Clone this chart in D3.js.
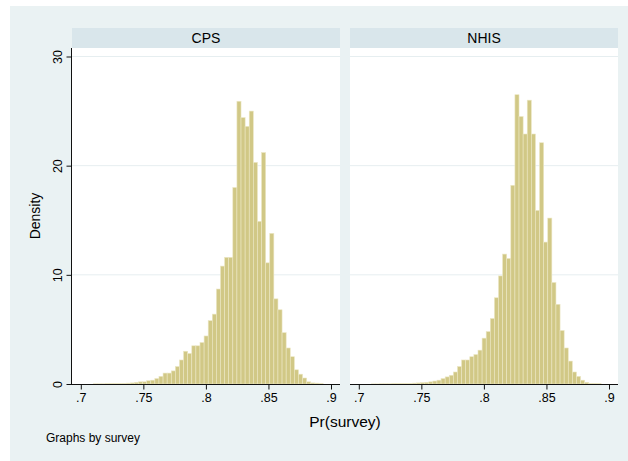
<!DOCTYPE html>
<html>
<head>
  <meta charset="utf-8">
  <title></title>
  <script src="https://cdn.jsdelivr.net/npm/d3@7"></script>
  <style type="text/css">
    body { margin: 0; background: white; }
    svg text { font-family: "Liberation Sans", Arial, sans-serif; fill: #000; }
    .bar { fill: #d1c886; stroke: #ece7c4; stroke-width: 0.6px; }
    .grid { stroke: #e6eef0; stroke-width: 1px; }
    .tick line, .axisline { stroke: #111; stroke-width: 1px; }
  </style>
</head>
<body>
<div class="chart"></div>
<script type="text/javascript">

  // histogram bins are shared by both panels
  var binStart = 0.71;
  var binWidth = 0.00328;
  var surveys = ['CPS', 'NHIS'];
  var cpsDensity = [0.02, 0.02, 0.02, 0.03, 0.03, 0.04, 0.05, 0.06, 0.08, 0.1,
    0.15, 0.2, 0.2, 0.3, 0.35, 0.5, 0.7, 1.0, 1.0, 1.2,
    1.6, 2.2, 3.0, 2.8, 3.5, 3.5, 3.8, 4.4, 5.8, 6.4,
    8.7, 10.8, 11.6, 11.6, 18.0, 25.9, 24.4, 23.6, 25.0, 20.3,
    14.9, 21.2, 11.1, 13.8, 7.8, 6.8, 4.7, 3.3, 2.5, 1.3,
    0.9, 0.55, 0.2, 0.1, 0.08, 0.03];
  var nhisDensity = [0.01, 0.01, 0.02, 0.02, 0.02, 0.03, 0.03, 0.04, 0.05, 0.06,
    0.08, 0.1, 0.12, 0.15, 0.2, 0.27, 0.35, 0.5, 0.65, 0.8,
    1.1, 1.6, 2.2, 2.2, 2.5, 2.7, 3.1, 4.2, 4.8, 6.0,
    7.9, 9.9, 11.9, 11.5, 18.2, 26.5, 24.5, 22.9, 26.0, 22.9,
    15.9, 22.1, 13.0, 15.2, 9.3, 7.3, 4.9, 3.3, 2.1, 1.1,
    0.7, 0.35, 0.15, 0.06, 0.05, 0.03];
  var xTicks = [0.7, 0.75, 0.8, 0.85, 0.9];
  var yTicks = [0, 10, 20, 30];
  var gridTicks = [10, 20, 30];

  var densities = [cpsDensity, nhisDensity];

  var W = 628, H = 461;
  var panelLeft = [72, 350];
  var panelW = 268;
  var plotTop = 48, plotBottom = 384, stripTop = 28;

  var svg = d3.select('.chart').append('svg')
    .attr('width', W).attr('height', H);

  svg.append('rect').attr('x', 10).attr('y', 6)
    .attr('width', W - 10).attr('height', H - 6)
    .attr('fill', '#eaf2f3');

  var y = d3.scaleLinear().domain([0, 30]).range([plotBottom, 56.5]);

  surveys.forEach(function (name, p) {
    var left = panelLeft[p];
    var x = d3.scaleLinear().domain([0.7, 0.9]).range([left + 8.8, left + 259]);
    var g = svg.append('g');

    // strip
    g.append('rect').attr('x', left).attr('y', stripTop)
      .attr('width', panelW).attr('height', plotTop - stripTop)
      .attr('fill', '#d9e6eb');
    g.append('text').attr('x', left + panelW / 2).attr('y', 43)
      .attr('text-anchor', 'middle').style('font-size', '14px')
      .text(name);

    // plot region
    g.append('rect').attr('x', left).attr('y', plotTop)
      .attr('width', panelW).attr('height', plotBottom - plotTop)
      .attr('fill', 'white');

    g.selectAll('.grid').data(gridTicks).enter().append('line')
      .attr('class', 'grid')
      .attr('x1', left).attr('x2', left + panelW)
      .attr('y1', function (d) { return y(d); })
      .attr('y2', function (d) { return y(d); });

    g.append('g').selectAll('.bar')
      .data(densities[p]).enter().append('rect')
        .attr('class', 'bar')
        .attr('x', function (d, i) { return x(binStart + i * binWidth); })
        .attr('width', function (d, i) {
          return x(binStart + (i + 1) * binWidth) - x(binStart + i * binWidth);
        })
        .attr('y', function (d) { return y(d); })
        .attr('height', function (d) { return plotBottom - y(d); });

    // x axis
    g.append('line').attr('class', 'axisline')
      .attr('x1', left).attr('x2', left + panelW)
      .attr('y1', plotBottom + 0.5).attr('y2', plotBottom + 0.5);

    g.append('g')
      .attr('transform', 'translate(0,' + (plotBottom + 0.5) + ')')
      .call(d3.axisBottom(x).tickValues(xTicks).tickSize(5).tickPadding(4)
        .tickFormat(function (d) { return String(d).replace(/^0/, ''); }))
      .call(function (a) { a.select('.domain').remove(); })
      .selectAll('text').style('font-size', '12.5px');
  });

  // y axis on the first panel
  var ya = svg.append('g').attr('transform', 'translate(' + (panelLeft[0] - 0.5) + ',0)');
  ya.append('line').attr('class', 'axisline')
    .attr('x1', 0).attr('x2', 0).attr('y1', plotTop).attr('y2', plotBottom + 1);
  ya.call(d3.axisLeft(y).tickValues(yTicks).tickSize(5).tickFormat(d3.format('d')))
    .call(function (a) { a.select('.domain').remove(); });
  ya.selectAll('.tick text')
    .attr('x', null).attr('dy', null)
    .attr('text-anchor', 'middle')
    .attr('transform', 'translate(-10,0) rotate(-90)')
    .style('font-size', '12.5px');

  svg.append('text')
    .attr('transform', 'translate(40,216) rotate(-90)')
    .attr('text-anchor', 'middle').style('font-size', '14px')
    .text('Density');

  svg.append('text').attr('x', 345).attr('y', 427)
    .attr('text-anchor', 'middle').style('font-size', '15.5px')
    .text('Pr(survey)');

  svg.append('text').attr('x', 46).attr('y', 442)
    .style('font-size', '12px')
    .text('Graphs by survey');
</script>
</body>
</html>
